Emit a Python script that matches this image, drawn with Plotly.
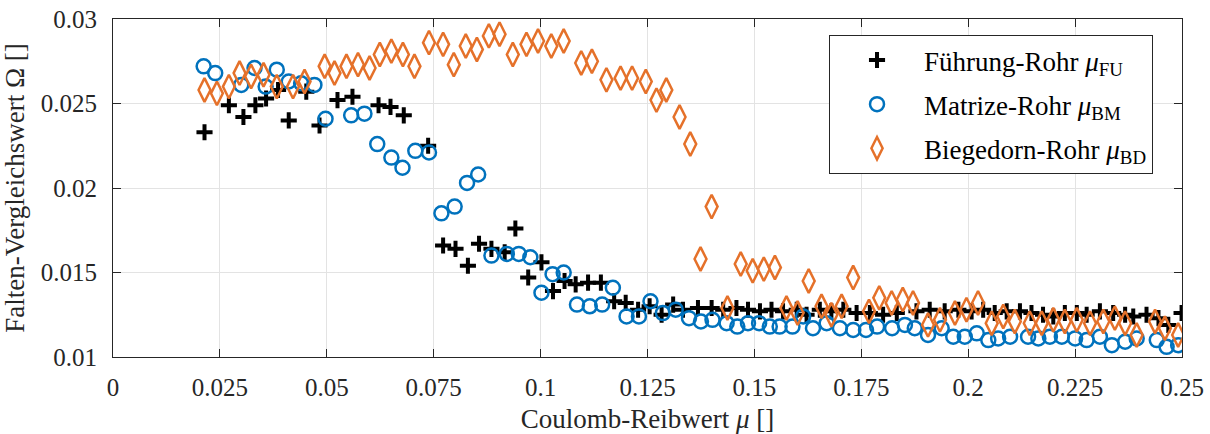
import plotly.graph_objects as go

# Führung-Rohr (mu_FU)
fu_x = [0.0214, 0.0271, 0.0305, 0.0333, 0.0358, 0.0386, 0.0411, 0.0452, 0.0483, 0.0525,
        0.0560, 0.0621, 0.0649, 0.0680, 0.0737, 0.0772, 0.0801, 0.0830, 0.0856, 0.0885,
        0.0916, 0.0941, 0.0971, 0.1002, 0.1029, 0.1056, 0.1082, 0.1111, 0.1141, 0.1172,
        0.1199, 0.1228, 0.1255, 0.1283, 0.1310, 0.1333, 0.1368, 0.1400, 0.1427, 0.1458,
        0.1485, 0.1513, 0.1540, 0.1567, 0.1599, 0.1622, 0.1653, 0.1680, 0.1708, 0.1739,
        0.1770, 0.1801, 0.1833, 0.1879, 0.1910, 0.1945, 0.1977, 0.2008, 0.2035, 0.2062,
        0.2090, 0.2121, 0.2148, 0.2175, 0.2199, 0.2226, 0.2254, 0.2277, 0.2308, 0.2339,
        0.2367, 0.2386, 0.2417, 0.2445, 0.2468, 0.2499]
fu_y = [0.0233, 0.0249, 0.0242, 0.0249, 0.0253, 0.0258, 0.0240, 0.0257, 0.0237, 0.0252,
        0.0254, 0.0249, 0.0248, 0.0243, 0.0225, 0.0166, 0.0164, 0.0154, 0.0167, 0.0164,
        0.0162, 0.0176, 0.0147, 0.0156, 0.0139, 0.0145, 0.0143, 0.0144, 0.0144, 0.0133,
        0.0132, 0.0128, 0.0130, 0.0125, 0.0131, 0.0128, 0.0129, 0.0129, 0.0128, 0.0129,
        0.0128, 0.0127, 0.0128, 0.0127, 0.0128, 0.0125, 0.0128, 0.0127, 0.0128, 0.0126,
        0.0126, 0.0125, 0.0126, 0.0127, 0.0128, 0.0127, 0.0128, 0.0127, 0.0128, 0.0126,
        0.0127, 0.0127, 0.0126, 0.0125, 0.0124, 0.0126, 0.0126, 0.0125, 0.0127, 0.0126,
        0.0125, 0.0124, 0.0125, 0.0123, 0.0119, 0.0126]

# Matrize-Rohr (mu_BM)
bm_x = [0.0212, 0.0239, 0.0300, 0.0331, 0.0357, 0.0383, 0.0411, 0.0440, 0.0471, 0.0497,
        0.0557, 0.0588, 0.0618, 0.0651, 0.0677, 0.0707, 0.0739, 0.0768, 0.0799, 0.0828,
        0.0854, 0.0885, 0.0921, 0.0949, 0.0976, 0.1002, 0.1028, 0.1054, 0.1085, 0.1115,
        0.1144, 0.1169, 0.1201, 0.1230, 0.1257, 0.1286, 0.1316, 0.1347, 0.1375, 0.1402,
        0.1435, 0.1460, 0.1485, 0.1511, 0.1536, 0.1559, 0.1589, 0.1614, 0.1637, 0.1669,
        0.1700, 0.1731, 0.1761, 0.1787, 0.1822, 0.1852, 0.1875, 0.1906, 0.1938, 0.1965,
        0.1992, 0.2020, 0.2047, 0.2070, 0.2098, 0.2140, 0.2164, 0.2191, 0.2219, 0.2250,
        0.2277, 0.2308, 0.2336, 0.2367, 0.2394, 0.2441, 0.2464, 0.2491]
bm_y = [0.0272, 0.0268, 0.0261, 0.0271, 0.0260, 0.0270, 0.0263, 0.0262, 0.0261, 0.0241,
        0.0243, 0.0244, 0.0226, 0.0218, 0.0212, 0.0222, 0.0221, 0.0185, 0.0189, 0.0203,
        0.0208, 0.0160, 0.0161, 0.0161, 0.0159, 0.0138, 0.0149, 0.0150, 0.0131, 0.0130,
        0.0131, 0.0141, 0.0124, 0.0124, 0.0133, 0.0126, 0.0128, 0.0123, 0.0121, 0.0122,
        0.0120, 0.0118, 0.0120, 0.0120, 0.0118, 0.0118, 0.0118, 0.0124, 0.0117, 0.0120,
        0.0117, 0.0116, 0.0116, 0.0118, 0.0117, 0.0119, 0.0117, 0.0113, 0.0117, 0.0112,
        0.0112, 0.0114, 0.0110, 0.0111, 0.0112, 0.0112, 0.0111, 0.0112, 0.0112, 0.0111,
        0.0110, 0.0112, 0.0107, 0.0109, 0.0111, 0.0110, 0.0106, 0.0107]

# Biegedorn-Rohr (mu_BD)
bd_x = [0.0214, 0.0243, 0.0271, 0.0296, 0.0323, 0.0352, 0.0383, 0.0421, 0.0448, 0.0495,
        0.0518, 0.0546, 0.0573, 0.0600, 0.0624, 0.0651, 0.0678, 0.0705, 0.0739, 0.0772,
        0.0797, 0.0825, 0.0851, 0.0879, 0.0904, 0.0935, 0.0967, 0.0994, 0.1025, 0.1054,
        0.1095, 0.1120, 0.1154, 0.1187, 0.1214, 0.1246, 0.1271, 0.1294, 0.1325, 0.1350,
        0.1374, 0.1400, 0.1437, 0.1468, 0.1496, 0.1522, 0.1548, 0.1575, 0.1601, 0.1627,
        0.1657, 0.1680, 0.1704, 0.1731, 0.1768, 0.1792, 0.1821, 0.1847, 0.1871, 0.1906,
        0.1934, 0.1969, 0.1996, 0.2023, 0.2055, 0.2082, 0.2109, 0.2144, 0.2172, 0.2199,
        0.2226, 0.2254, 0.2285, 0.2316, 0.2343, 0.2367, 0.2394, 0.2437, 0.2460, 0.2491]
bd_y = [0.0258, 0.0256, 0.0260, 0.0268, 0.0266, 0.0267, 0.0260, 0.0260, 0.0263, 0.0272,
        0.0268, 0.0272, 0.0273, 0.0271, 0.0279, 0.0281, 0.0279, 0.0272, 0.0286, 0.0285,
        0.0273, 0.0284, 0.0282, 0.0290, 0.0291, 0.0279, 0.0285, 0.0287, 0.0284, 0.0287,
        0.0274, 0.0275, 0.0264, 0.0265, 0.0265, 0.0263, 0.0252, 0.0258, 0.0242, 0.0226,
        0.0158, 0.0189, 0.0129, 0.0155, 0.0151, 0.0152, 0.0153, 0.0129, 0.0126, 0.0145,
        0.0130, 0.0125, 0.0130, 0.0147, 0.0127, 0.0135, 0.0132, 0.0134, 0.0132, 0.0119,
        0.0122, 0.0126, 0.0128, 0.0132, 0.0120, 0.0124, 0.0121, 0.0120, 0.0120, 0.0122,
        0.0121, 0.0122, 0.0120, 0.0121, 0.0123, 0.0120, 0.0113, 0.0121, 0.0117, 0.0113]

x_ticks = [0, 0.025, 0.05, 0.075, 0.1, 0.125, 0.15, 0.175, 0.2, 0.225, 0.25]
x_ticktext = ["0", "0.025", "0.05", "0.075", "0.1", "0.125", "0.15", "0.175", "0.2", "0.225", "0.25"]
y_ticks = [0.01, 0.015, 0.02, 0.025, 0.03]
y_ticktext = ["0.01", "0.015", "0.02", "0.025", "0.03"]

FONT = "Liberation Serif, Times New Roman, serif"
AXIS_COLOR = "#262626"
GRID_COLOR = "#e3e3e3"

fig = go.Figure()

fig.add_trace(go.Scatter(
    x=fu_x, y=fu_y, mode="markers", name="Führung-Rohr <i>μ</i><sub>FU</sub>",
    legendgroup="fu",
    marker=dict(symbol="cross-thin", size=11.5, color="#000000",
                line=dict(color="#000000", width=4)),
))
fig.add_trace(go.Scatter(
    x=bm_x, y=bm_y, mode="markers", name="Matrize-Rohr <i>μ</i><sub>BM</sub>",
    legendgroup="bm",
    marker=dict(symbol="circle-open", size=14, color="#0072BD",
                line=dict(color="#0072BD", width=2.5)),
))
fig.add_trace(go.Scatter(
    x=bd_x, y=bd_y, mode="markers", name="Biegedorn-Rohr <i>μ</i><sub>BD</sub>",
    legendgroup="bd",
    marker=dict(symbol="diamond-tall-open", size=17, color="#E5712A",
                line=dict(color="#E5712A", width=2.5)),
))

axis_common = dict(
    showline=True, linecolor=AXIS_COLOR, linewidth=1, mirror="ticks",
    ticks="inside", ticklen=8, tickwidth=1, tickcolor=AXIS_COLOR,
    showgrid=True, gridcolor=GRID_COLOR, gridwidth=1, zeroline=False,
    automargin=False,
    tickfont=dict(family=FONT, size=25, color="#262626"),
)

fig.update_xaxes(
    range=[0, 0.25], tickvals=x_ticks, ticktext=x_ticktext,
    ticklabelstandoff=8,
    title=dict(text="Coulomb-Reibwert <i>μ</i> []", standoff=14,
               font=dict(family=FONT, size=27, color="#262626")),
    **axis_common,
)
fig.update_yaxes(
    range=[0.01, 0.03], tickvals=y_ticks, ticktext=y_ticktext,
    ticklabelstandoff=10,
    title=dict(text="Falten-Vergleichswert Ω []", standoff=10,
               font=dict(family=FONT, size=27, color="#262626")),
    **axis_common,
)

fig.update_layout(
    width=1210, height=434,
    margin=dict(l=113, r=28, t=19, b=77),
    paper_bgcolor="white", plot_bgcolor="white",
    font=dict(family=FONT, color="#262626"),
    legend=dict(
        x=0.6698, y=0.9527, xanchor="left", yanchor="top",
        bgcolor="white", bordercolor=AXIS_COLOR, borderwidth=1,
        font=dict(family=FONT, size=27, color="#000000"),
        traceorder="grouped", tracegroupgap=6, itemwidth=84,
    ),
)

fig.write_html("out.html")
